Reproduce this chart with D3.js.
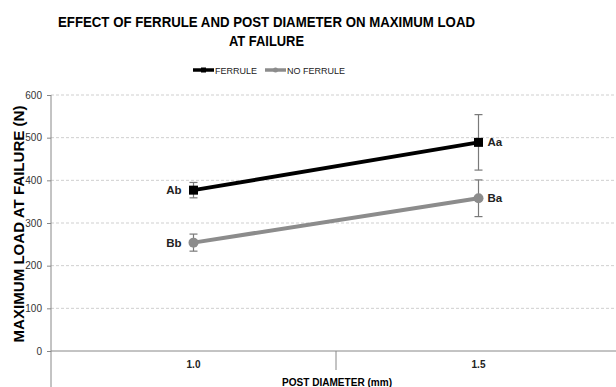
<!DOCTYPE html>
<html>
<head>
<meta charset="utf-8">
<script src="https://cdn.jsdelivr.net/npm/d3@7"></script>
<style>
  body { margin: 0; background: #fff; }
  svg text { font-family: "Liberation Sans", Arial, sans-serif; }
</style>
</head>
<body>
<div id="chart"></div>
<script>
// Chart data
const categories = ["1.0", "1.5"];
const seriesNames = ["FERRULE", "NO FERRULE"];
const ferruleValues = [377, 489];
const ferruleErrors = [18, 65];
const ferruleLabels = ["Ab", "Aa"];
const noFerruleValues = [254, 358];
const noFerruleErrors = [20, 43];
const noFerruleLabels = ["Bb", "Ba"];
const yTicks = [0, 100, 200, 300, 400, 500, 600];

const width = 616, height = 387;
const margin = { left: 51, right: -5, top: 95, bottom: 36 };

const svg = d3.select("#chart").append("svg")
  .attr("width", width)
  .attr("height", height);

const x = d3.scaleBand()
  .domain(categories)
  .range([margin.left, width - margin.right]);

const y = d3.scaleLinear()
  .domain([0, 600])
  .range([height - margin.bottom, margin.top]);

// Title (condensed bold look, squeezed to the reference width)
svg.append("text")
  .attr("x", 266.5).attr("y", 27)
  .attr("text-anchor", "middle")
  .attr("font-size", "15px").attr("font-weight", "bold")
  .attr("textLength", 417).attr("lengthAdjust", "spacingAndGlyphs")
  .text("EFFECT OF FERRULE AND POST DIAMETER ON MAXIMUM LOAD");
svg.append("text")
  .attr("x", 266.5).attr("y", 46)
  .attr("text-anchor", "middle")
  .attr("font-size", "15px").attr("font-weight", "bold")
  .attr("textLength", 75).attr("lengthAdjust", "spacingAndGlyphs")
  .text("AT FAILURE");

// Gridlines
svg.append("g")
  .selectAll("line")
  .data(yTicks.filter(d => d > 0))
  .join("line")
  .attr("x1", margin.left).attr("x2", width)
  .attr("y1", d => y(d)).attr("y2", d => y(d))
  .attr("stroke", "#cfcfcf")
  .attr("stroke-dasharray", "3,2");

// Y axis
const yAxis = svg.append("g")
  .attr("transform", `translate(${margin.left},0)`)
  .call(d3.axisLeft(y).tickValues(yTicks).tickSize(4).tickPadding(5));
yAxis.select(".domain").remove();
yAxis.selectAll(".tick line").attr("stroke", "#888");
yAxis.selectAll(".tick text").attr("font-size", "10px").attr("fill", "#333")
  .style("font-family", "'Liberation Sans', Arial, sans-serif");
svg.append("line")
  .attr("x1", margin.left).attr("x2", margin.left)
  .attr("y1", y(600)).attr("y2", height)
  .attr("stroke", "#888");

// X axis
svg.append("line")
  .attr("x1", margin.left).attr("x2", width)
  .attr("y1", y(0)).attr("y2", y(0))
  .attr("stroke", "#888");
svg.append("line")
  .attr("x1", x("1.5")).attr("x2", x("1.5"))
  .attr("y1", y(0)).attr("y2", y(0) + 19)
  .attr("stroke", "#888");
svg.append("g")
  .selectAll("text")
  .data(categories)
  .join("text")
  .attr("x", d => x(d) + x.bandwidth() / 2)
  .attr("y", y(0) + 17)
  .attr("text-anchor", "middle")
  .attr("font-size", "10px").attr("font-weight", "bold")
  .attr("fill", "#222")
  .text(d => d);

// Axis titles
svg.append("text")
  .attr("x", 337).attr("y", 386)
  .attr("text-anchor", "middle")
  .attr("font-size", "10px").attr("font-weight", "bold")
  .attr("textLength", 110).attr("lengthAdjust", "spacingAndGlyphs")
  .text("POST DIAMETER (mm)");
svg.append("text")
  .attr("transform", `translate(24,${y(300) + 1}) rotate(-90)`)
  .attr("text-anchor", "middle")
  .attr("font-size", "15px").attr("font-weight", "bold")
  .attr("textLength", 237).attr("lengthAdjust", "spacingAndGlyphs")
  .text("MAXIMUM LOAD AT FAILURE (N)");

const cx = d => x(d) + x.bandwidth() / 2;

const series = [
  { name: seriesNames[0], values: ferruleValues, errors: ferruleErrors, labels: ferruleLabels, color: "#000", shape: "square" },
  { name: seriesNames[1], values: noFerruleValues, errors: noFerruleErrors, labels: noFerruleLabels, color: "#8c8c8c", shape: "circle" }
];

const line = d3.line().x(d => cx(d.cat)).y(d => y(d.v));

series.forEach(s => {
  const pts = categories.map((c, i) => ({ cat: c, v: s.values[i], e: s.errors[i], lab: s.labels[i] }));
  const g = svg.append("g");

  // Error bars
  pts.forEach(p => {
    const px = cx(p.cat);
    g.append("line").attr("x1", px).attr("x2", px)
      .attr("y1", y(p.v + p.e)).attr("y2", y(p.v - p.e))
      .attr("stroke", "#7a7a7a").attr("stroke-width", 1.2);
    [p.v + p.e, p.v - p.e].forEach(v => {
      g.append("line").attr("x1", px - 4).attr("x2", px + 4)
        .attr("y1", y(v)).attr("y2", y(v))
        .attr("stroke", "#7a7a7a").attr("stroke-width", 1.2);
    });
  });

  g.append("path")
    .datum(pts)
    .attr("d", line)
    .attr("fill", "none")
    .attr("stroke", s.color)
    .attr("stroke-width", 4);

  if (s.shape === "square") {
    g.selectAll("rect").data(pts).join("rect")
      .attr("x", d => cx(d.cat) - 4.5).attr("y", d => y(d.v) - 4.5)
      .attr("width", 9).attr("height", 9)
      .attr("fill", s.color);
  } else {
    g.selectAll("circle").data(pts).join("circle")
      .attr("cx", d => cx(d.cat)).attr("cy", d => y(d.v))
      .attr("r", 5).attr("fill", s.color);
  }

  // Point labels: left of first point, right of second
  g.selectAll(".lab").data(pts).join("text")
    .attr("class", "lab")
    .attr("x", (d, i) => i === 0 ? cx(d.cat) - 12 : cx(d.cat) + 9)
    .attr("y", d => y(d.v) + 4)
    .attr("text-anchor", (d, i) => i === 0 ? "end" : "start")
    .attr("font-size", "11.5px").attr("font-weight", "bold")
    .attr("fill", "#222")
    .text(d => d.lab);
});

// Legend
const legend = svg.append("g").attr("transform", "translate(0,70)");
const legendItems = [
  { x: 193, w: 21, color: "#000", shape: "square", text: seriesNames[0] },
  { x: 265, w: 21, color: "#8c8c8c", shape: "circle", text: seriesNames[1] }
];
legendItems.forEach(it => {
  legend.append("line")
    .attr("x1", it.x).attr("x2", it.x + it.w)
    .attr("y1", 0).attr("y2", 0)
    .attr("stroke", it.color).attr("stroke-width", 3.5);
  if (it.shape === "square") {
    legend.append("rect").attr("x", it.x + it.w / 2 - 2.5).attr("y", -2.5)
      .attr("width", 5).attr("height", 5).attr("fill", it.color);
  } else {
    legend.append("circle").attr("cx", it.x + it.w / 2).attr("cy", 0)
      .attr("r", 2.5).attr("fill", it.color);
  }
  legend.append("text")
    .attr("x", it.x + it.w + 1).attr("y", 3.5)
    .attr("font-size", "9px").attr("fill", "#222")
    .text(it.text);
});
</script>
</body>
</html>
